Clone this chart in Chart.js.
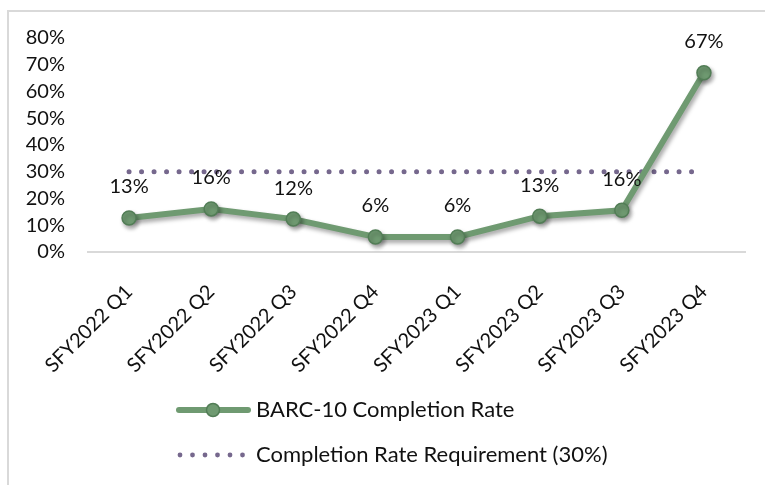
<!DOCTYPE html>
<html>
<head>
<meta charset="utf-8">
<script src="https://cdn.jsdelivr.net/npm/chart.js@4.4.1/dist/chart.umd.min.js"></script>
<style>
  html, body { margin: 0; padding: 0; background: #fff; }
  #wrap { width: 765px; height: 485px; position: relative; }
</style>
</head>
<body>
<div id="wrap"><canvas id="rateChart" width="765" height="485"></canvas></div>
<script>
// Quarters on the x axis
const quarters = ['SFY2022 Q1', 'SFY2022 Q2', 'SFY2022 Q3', 'SFY2022 Q4',
                  'SFY2023 Q1', 'SFY2023 Q2', 'SFY2023 Q3', 'SFY2023 Q4'];
// BARC-10 completion rate (%)
const completionRate = [12.7, 16.1, 12.3, 5.6, 5.6, 13.4, 15.6, 67];
// Requirement line (%)
const requirement = [30, 30, 30, 30, 30, 30, 30, 30];
// y axis ticks
const yMax = 80;
const yStep = 10;

const green = '#6f9a71';
const greenDark = '#527d56';
const purple = '#76688d';
const FONT = 'Lato, "Open Sans", sans-serif';
const FSIZE = 20;

// light frame around the chart (top and left edges visible)
const framePlugin = {
    id: 'frame',
    beforeDraw(chart) {
        const ctx = chart.ctx;
        ctx.save();
        ctx.strokeStyle = '#d9d9d9';
        ctx.lineWidth = 2;
        ctx.beginPath();
        ctx.moveTo(8, 485);
        ctx.lineTo(8, 11);
        ctx.lineTo(765, 11);
        ctx.stroke();
        ctx.restore();
    }
};

// soft shadow under the green line
const shadowPlugin = {
    id: 'shadow',
    beforeDatasetDraw(chart, args) {
        if (args.index !== 0) return;
        const ctx = chart.ctx;
        ctx.save();
        ctx.shadowColor = 'rgba(0,0,0,0.35)';
        ctx.shadowBlur = 4;
        ctx.shadowOffsetX = 2;
        ctx.shadowOffsetY = 3;
    },
    afterDatasetDraw(chart, args) {
        if (args.index !== 0) return;
        chart.ctx.restore();
    }
};

// value labels above each point
const valueLabels = {
    id: 'valueLabels',
    afterDatasetsDraw(chart) {
        const ctx = chart.ctx;
        const meta = chart.getDatasetMeta(0);
        ctx.save();
        ctx.font = FSIZE + 'px ' + FONT;
        ctx.fillStyle = '#111';
        ctx.textAlign = 'center';
        ctx.textBaseline = 'middle';
        meta.data.forEach((pt, i) => {
            ctx.fillText(Math.round(completionRate[i]) + '%', pt.x, pt.y - 31);
        });
        ctx.restore();
    }
};

// stacked legend under the axis
const stackedLegend = {
    id: 'stackedLegend',
    afterDraw(chart) {
        const ctx = chart.ctx;
        ctx.save();
        // item 1: line with marker
        let y = 410;
        ctx.strokeStyle = green;
        ctx.lineWidth = 6;
        ctx.lineCap = 'round';
        ctx.beginPath();
        ctx.moveTo(179, y);
        ctx.lineTo(248, y);
        ctx.stroke();
        ctx.beginPath();
        ctx.arc(213, y, 6.5, 0, Math.PI * 2);
        ctx.fillStyle = green;
        ctx.fill();
        ctx.lineWidth = 1.5;
        ctx.strokeStyle = greenDark;
        ctx.stroke();
        // item 2: dotted line
        y = 455;
        ctx.fillStyle = purple;
        for (let x = 180; x <= 244; x += 12.5) {
            ctx.beginPath();
            ctx.arc(x, y, 2.4, 0, Math.PI * 2);
            ctx.fill();
        }
        ctx.font = '22px ' + FONT;
        ctx.fillStyle = '#111';
        ctx.textBaseline = 'middle';
        ctx.fillText(chart.data.datasets[0].label, 256, 410);
        ctx.fillText(chart.data.datasets[1].label, 256, 455);
        ctx.restore();
    }
};

const ctxRate = document.getElementById('rateChart').getContext('2d');
const rateChart = new Chart(ctxRate, {
    type: 'line',
    data: {
        labels: quarters,
        datasets: [{
            label: 'BARC-10 Completion Rate',
            data: completionRate,
            borderColor: green,
            borderWidth: 6,
            backgroundColor: green,
            pointRadius: 7,
            pointBackgroundColor: green,
            pointBorderColor: greenDark,
            pointBorderWidth: 1.5,
            tension: 0,
            order: 0
        }, {
            label: 'Completion Rate Requirement (30%)',
            data: requirement,
            borderColor: purple,
            borderWidth: 5,
            borderCapStyle: 'round',
            borderDash: [0, 12.5],
            pointRadius: 0,
            fill: false,
            order: 1
        }]
    },
    options: {
        responsive: false,
        animation: false,
        layout: { padding: { left: 0, right: 20, top: 38, bottom: 0 } },
        plugins: {
            legend: { display: false },
            tooltip: { enabled: false }
        },
        scales: {
            x: {
                offset: true,
                grid: { display: false, drawTicks: false },
                border: { display: true, color: '#d9d9d9', width: 2 },
                ticks: {
                    minRotation: 45,
                    maxRotation: 45,
                    autoSkip: false,
                    padding: 28,
                    color: '#111',
                    font: { family: FONT, size: FSIZE }
                },
                afterFit(scale) { scale.height = 233; }
            },
            y: {
                min: 0,
                max: yMax,
                grid: { display: false, drawTicks: false },
                border: { display: false },
                ticks: {
                    stepSize: yStep,
                    autoSkip: false,
                    padding: 23,
                    color: '#111',
                    font: { family: FONT, size: FSIZE },
                    callback: v => v + '%'
                },
                afterFit(scale) { scale.width = 88; }
            }
        }
    },
    plugins: [framePlugin, shadowPlugin, valueLabels, stackedLegend]
});
</script>
</body>
</html>
